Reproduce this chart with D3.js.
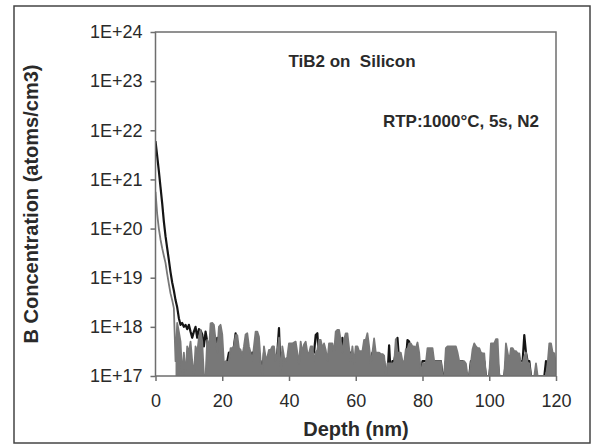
<!DOCTYPE html>
<html>
<head>
<meta charset="utf-8">
<script src="https://cdn.jsdelivr.net/npm/d3@7"></script>
<style>
  body { margin: 0; background: #fff; }
  svg { display: block; font-family: "Liberation Sans", Arial, sans-serif; }
</style>
</head>
<body>
<svg id="chart"></svg>
<script>
// SIMS profile, one point every 0.5 nm, values in units of 1E17 atoms/cm3 (0 = below floor)
const depthStep = 0.5;
const unit = 1e17;

const yTicks = [1e17, 1e18, 1e19, 1e20, 1e21, 1e22, 1e23, 1e24];
const xTicks = [0, 20, 40, 60, 80, 100, 120];

const blackProfile = [
  60000, 30000, 15000, 7000, 3300, 1400, 700, 400, 230, 130,
  80, 55, 35, 25, 15, 11, 12, 10, 11, 9,
  11, 8, 6, 8, 10, 6, 9, 8.5, 7, 4,
  8, 5, 3, 7, 5, 4, 3, 6, 4, 3,
  0, 0, 1.8, 2, 3, 3, 2, 4, 7.4, 3,
  3, 2, 3, 2, 2.5, 3, 2, 2, 3, 2,
  3, 2.5, 2, 2, 0, 3, 2, 2, 2.5, 2,
  3, 2, 2.4, 3, 9.4, 0, 3, 2, 2, 2,
  2, 3, 2, 2, 3, 2, 2, 2.5, 2, 3,
  2, 2, 2.5, 2, 3, 3, 6.8, 7.4, 2, 3,
  2, 3, 2, 2.5, 2, 3, 2, 2, 3, 2,
  3, 2, 6, 3, 2, 2.5, 2, 3, 2, 2,
  2, 3, 2, 2, 2.5, 2, 3, 2, 2, 2,
  3, 2, 2, 2, 2.5, 2, 2, 2, 0, 0,
  4.2, 0, 2, 2, 3, 6, 2, 2, 2, 0,
  2, 5.4, 5, 2, 2, 2, 2, 2, 2, 0,
  2, 2, 2, 2, 2, 2, 2, 2, 2, 2,
  2, 2, 0, 0, 2, 2, 2, 2, 2, 2,
  2, 2, 2, 2, 2, 0, 0, 0, 0, 2,
  2, 2, 2, 2, 2, 2, 2, 2, 0, 0,
  0, 2, 2, 2, 2, 2, 0, 0, 0, 0,
  2, 2, 2, 2, 2, 2, 2, 2, 2, 2,
  2, 6.8, 3, 2, 2, 0, 0, 0, 0, 0,
  0, 0, 0, 0, 2, 0, 2, 2, 2, 2, 2
];

const grayProfile = [
  5600, 2000, 1000, 600, 400, 280, 200, 120, 75, 48,
  35, 24, 2, 12, 8, 5, 0, 3, 0, 4,
  3, 5, 2, 0, 4, 3, 6, 8.7, 5, 0,
  0, 5.4, 3, 11.8, 12, 11, 5.4, 3, 10, 11,
  7, 1.8, 2, 1.9, 2, 3.7, 3.7, 4, 6.8, 6.8,
  3.7, 3.4, 2.5, 4, 7, 7.4, 4, 3, 2, 4,
  8, 8, 6.3, 2, 0, 4, 2.4, 2.4, 3.4, 3.4,
  4, 4, 2, 3, 6, 0, 4, 2.5, 2, 2.5,
  4.6, 4.6, 4.6, 4.8, 5, 3, 1.8, 5, 3, 4.4,
  5, 3, 2.9, 4, 4, 2, 3, 3.4, 5.4, 5.4,
  3.7, 4.6, 3.4, 2, 4.6, 4.6, 4.6, 3, 8, 8.7,
  8.7, 5.4, 3, 5.4, 7.4, 7.4, 3.7, 2, 4, 1.8,
  4, 4, 3.2, 3.2, 3.2, 5.4, 5.4, 7.4, 4, 1.8,
  3, 5.8, 3, 3, 3, 2.8, 2.8, 2.6, 0, 1.8,
  1.8, 1.8, 1.8, 1.8, 5.6, 3, 3, 3, 2, 1.8,
  3.5, 3.5, 4.6, 4.6, 4, 4, 3.7, 4.8, 3, 0,
  1.8, 1.8, 1.8, 3.7, 3.7, 3.7, 3.7, 2, 2, 2,
  2, 2, 0, 0, 3.7, 4, 4, 4, 4, 4,
  4, 3, 2, 2, 2, 2, 1.8, 0, 0, 1.8,
  3.5, 4.6, 4, 3.7, 3.7, 3, 2.9, 2.9, 0, 0,
  0, 4.6, 4.6, 4.6, 5.6, 5.6, 0, 0, 0, 0,
  4.6, 3, 2, 3.7, 3.7, 3.2, 3.2, 2.9, 2.9, 1.8,
  1.8, 2.5, 3, 1.8, 1.8, 0, 0, 0, 1.8, 0,
  0, 0, 0, 0, 0, 1.8, 4.6, 4.6, 3, 2.9, 1.8
];

const width = 592, height = 446;
const plot = { left: 155.5, right: 556, top: 32, bottom: 376 };

const svg = d3.select("#chart").attr("width", width).attr("height", height);

// outer picture frame
svg.append("rect")
    .attr("x", 14).attr("y", 6)
    .attr("width", 576).attr("height", 437)
    .attr("fill", "#fff")
    .attr("stroke", "#444")
    .attr("stroke-width", 1.5);

const x = d3.scaleLinear().domain([0, 120]).range([plot.left, plot.right]);
const y = d3.scaleLog().domain([1e17, 1e24]).range([plot.bottom, plot.top]).clamp(true);

const toPoints = arr => arr.map((v, i) => ({ depth: i * depthStep, value: v * unit }));

svg.append("clipPath").attr("id", "plotClip")
  .append("rect")
    .attr("x", plot.left).attr("y", plot.top)
    .attr("width", plot.right - plot.left).attr("height", plot.bottom - plot.top);

const line = d3.line()
    .x(d => x(d.depth))
    .y(d => y(d.value));

// the gray noise floor is sampled so densely that it prints as a solid band
const area = d3.area()
    .x(d => x(d.depth))
    .y0(plot.bottom)
    .y1(d => y(d.value));

const series = [
    { data: toPoints(blackProfile), color: "#151515", width: 2.2, fillFrom: null },
    { data: toPoints(grayProfile), color: "#787878", width: 1.8, fillFrom: 6 }
];

const marks = svg.append("g").attr("clip-path", "url(#plotClip)");

series.forEach(s => {
    if (s.fillFrom !== null) {
        marks.append("path")
            .datum(s.data.filter(d => d.depth >= s.fillFrom))
            .attr("fill", s.color)
            .attr("stroke", "none")
            .attr("d", area);
    }

    marks.append("path")
        .datum(s.data)
        .attr("fill", "none")
        .attr("stroke", s.color)
        .attr("stroke-width", s.width)
        .attr("stroke-linejoin", "round")
        .attr("d", line);
});

// plot box
svg.append("rect")
    .attr("x", plot.left).attr("y", plot.top)
    .attr("width", plot.right - plot.left).attr("height", plot.bottom - plot.top)
    .attr("fill", "none")
    .attr("stroke", "#6e6e6e")
    .attr("stroke-width", 1.5);

const yAxis = svg.append("g")
    .attr("transform", `translate(${plot.left},0)`)
    .call(d3.axisLeft(y).tickValues(yTicks).tickSize(5).tickPadding(8)
        .tickFormat(d => "1E+" + Math.round(Math.log10(d))));

const xAxis = svg.append("g")
    .attr("transform", `translate(0,${plot.bottom})`)
    .call(d3.axisBottom(x).tickValues(xTicks).tickSize(5).tickPadding(13));

[yAxis, xAxis].forEach(g => {
    g.select(".domain").remove();
    g.selectAll(".tick line").attr("stroke", "#6e6e6e").attr("stroke-width", 1.5);
    g.selectAll(".tick text")
        .attr("fill", "#2a2a2a")
        .style("font-size", "18px")
        .style("font-family", "'Liberation Sans', Arial, sans-serif");
});

svg.append("text")
    .attr("x", 356).attr("y", 436)
    .attr("text-anchor", "middle")
    .attr("font-size", "20px").attr("font-weight", "bold")
    .attr("fill", "#2a2a2a")
    .text("Depth (nm)");

svg.append("text")
    .attr("transform", "translate(38,204) rotate(-90)")
    .attr("text-anchor", "middle")
    .attr("font-size", "20px").attr("font-weight", "bold")
    .attr("fill", "#2a2a2a")
    .text("B Concentration (atoms/cm3)");

svg.append("text")
    .attr("x", 352).attr("y", 67)
    .attr("text-anchor", "middle")
    .attr("font-size", "17px").attr("font-weight", "bold")
    .attr("fill", "#2a2a2a")
    .style("white-space", "pre")
    .text("TiB2 on  Silicon");

svg.append("text")
    .attr("x", 539).attr("y", 127)
    .attr("text-anchor", "end")
    .attr("font-size", "17px").attr("font-weight", "bold")
    .attr("fill", "#2a2a2a")
    .text("RTP:1000°C, 5s, N2");
</script>
</body>
</html>
